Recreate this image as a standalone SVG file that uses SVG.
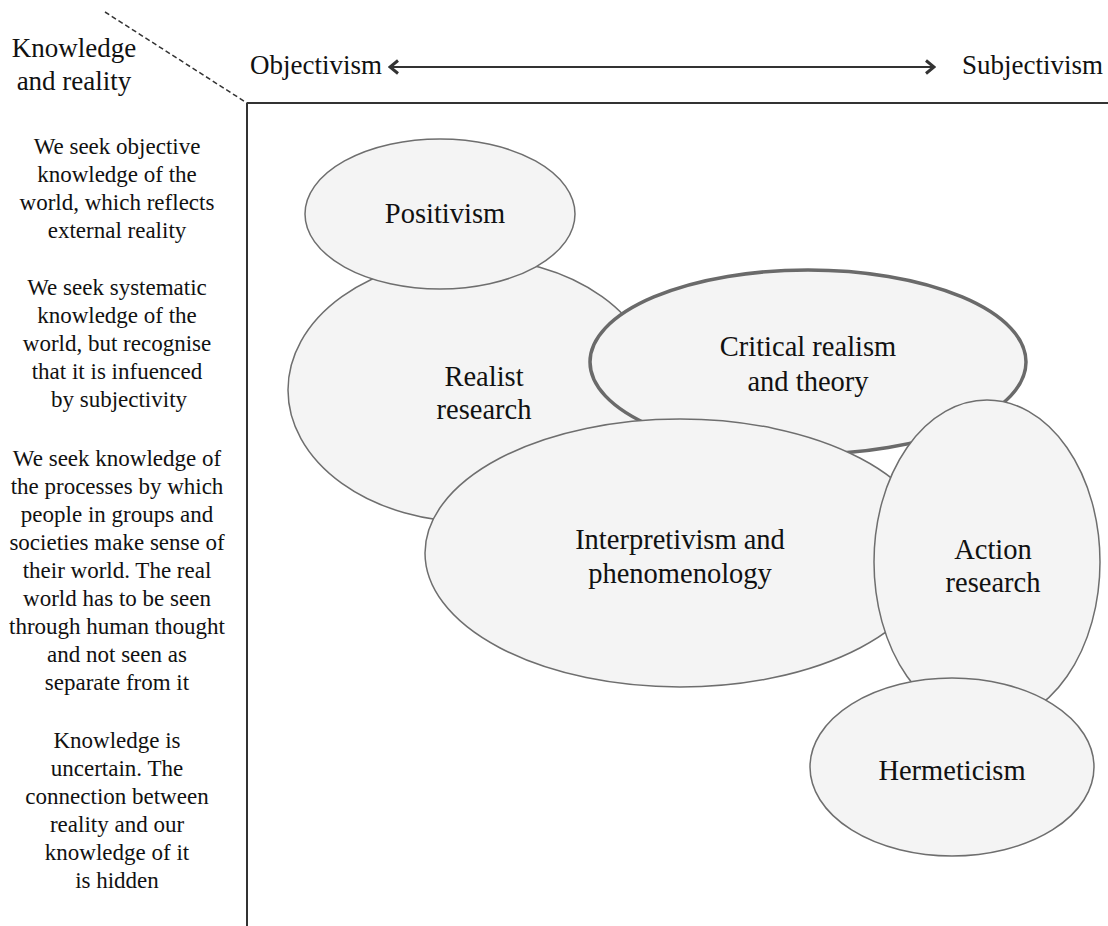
<svg xmlns="http://www.w3.org/2000/svg" width="1108" height="926" viewBox="0 0 1108 926">
  <defs>
    <marker id="chev" viewBox="0 0 12 16" refX="10" refY="8" markerWidth="12" markerHeight="16" markerUnits="userSpaceOnUse" orient="auto-start-reverse">
      <path d="M2,1.5 L10,8 L2,14.5" fill="none" stroke="#333" stroke-width="3"/>
    </marker>
  </defs>

  <!-- axes and corner -->
  <g id="axes">
    <line x1="247" y1="103" x2="1108" y2="103" stroke="#333" stroke-width="2"/>
    <line x1="247" y1="103" x2="247" y2="926" stroke="#333" stroke-width="2"/>
    <line x1="105" y1="12" x2="247" y2="103" stroke="#333" stroke-width="1.5" stroke-dasharray="5,3"/>
  </g>

  <g id="connectors">
    <line x1="390" y1="67" x2="934" y2="67" stroke="#333" stroke-width="2" marker-start="url(#chev)" marker-end="url(#chev)"/>
  </g>

  <g id="headings" fill="#111">
    <text font-family="Liberation Serif" font-size="27" x="74" y="57" text-anchor="middle">Knowledge</text>
    <text font-family="Liberation Serif" font-size="27" x="74" y="90" text-anchor="middle">and reality</text>
    <text font-family="Liberation Serif" font-size="27" x="250" y="74">Objectivism</text>
    <text font-family="Liberation Serif" font-size="27" x="962" y="74">Subjectivism</text>
  </g>

  <g id="side-notes" fill="#111">
    <text font-family="Liberation Serif" font-size="23" text-anchor="middle" x="117" y="154">We seek objective</text>
    <text font-family="Liberation Serif" font-size="23" text-anchor="middle" x="117" y="182">knowledge of the</text>
    <text font-family="Liberation Serif" font-size="23" text-anchor="middle" x="117" y="210">world, which reflects</text>
    <text font-family="Liberation Serif" font-size="23" text-anchor="middle" x="117" y="238">external reality</text>

    <text font-family="Liberation Serif" font-size="23" text-anchor="middle" x="117" y="295">We seek systematic</text>
    <text font-family="Liberation Serif" font-size="23" text-anchor="middle" x="117" y="323">knowledge of the</text>
    <text font-family="Liberation Serif" font-size="23" text-anchor="middle" x="117" y="351">world, but recognise</text>
    <text font-family="Liberation Serif" font-size="23" text-anchor="middle" x="117" y="379">that it is infuenced</text>
    <text font-family="Liberation Serif" font-size="23" text-anchor="middle" x="119" y="407">by subjectivity</text>

    <text font-family="Liberation Serif" font-size="23" text-anchor="middle" x="117" y="466">We seek knowledge of</text>
    <text font-family="Liberation Serif" font-size="23" text-anchor="middle" x="117" y="494">the processes by which</text>
    <text font-family="Liberation Serif" font-size="23" text-anchor="middle" x="117" y="522">people in groups and</text>
    <text font-family="Liberation Serif" font-size="23" text-anchor="middle" x="117" y="550">societies make sense of</text>
    <text font-family="Liberation Serif" font-size="23" text-anchor="middle" x="117" y="578">their world. The real</text>
    <text font-family="Liberation Serif" font-size="23" text-anchor="middle" x="117" y="606">world has to be seen</text>
    <text font-family="Liberation Serif" font-size="23" text-anchor="middle" x="117" y="634">through human thought</text>
    <text font-family="Liberation Serif" font-size="23" text-anchor="middle" x="117" y="662">and not seen as</text>
    <text font-family="Liberation Serif" font-size="23" text-anchor="middle" x="117" y="690">separate from it</text>

    <text font-family="Liberation Serif" font-size="23" text-anchor="middle" x="117" y="748">Knowledge is</text>
    <text font-family="Liberation Serif" font-size="23" text-anchor="middle" x="117" y="776">uncertain. The</text>
    <text font-family="Liberation Serif" font-size="23" text-anchor="middle" x="117" y="804">connection between</text>
    <text font-family="Liberation Serif" font-size="23" text-anchor="middle" x="117" y="832">reality and our</text>
    <text font-family="Liberation Serif" font-size="23" text-anchor="middle" x="117" y="860">knowledge of it</text>
    <text font-family="Liberation Serif" font-size="23" text-anchor="middle" x="117" y="888">is hidden</text>
  </g>

  <g id="realist">
    <ellipse cx="472" cy="390" rx="184" ry="132" fill="#f4f4f4" stroke="#6e6e6e" stroke-width="1.5"/>
    <text font-family="Liberation Serif" font-size="28.5" text-anchor="middle" fill="#111" x="484" y="386">Realist</text>
    <text font-family="Liberation Serif" font-size="28.5" text-anchor="middle" fill="#111" x="484" y="419">research</text>
  </g>

  <g id="positivism">
    <ellipse cx="440" cy="214" rx="135" ry="75" fill="#f4f4f4" stroke="#6e6e6e" stroke-width="1.5"/>
    <text font-family="Liberation Serif" font-size="28.5" text-anchor="middle" fill="#111" x="445" y="223">Positivism</text>
  </g>

  <g id="critical-realism">
    <ellipse cx="808" cy="362" rx="218" ry="92" fill="#f4f4f4" stroke="#6a6a6a" stroke-width="3.5"/>
    <text font-family="Liberation Serif" font-size="28.5" text-anchor="middle" fill="#111" x="808" y="356">Critical realism</text>
    <text font-family="Liberation Serif" font-size="28.5" text-anchor="middle" fill="#111" x="808" y="391">and theory</text>
  </g>

  <g id="interpretivism">
    <ellipse cx="680" cy="553" rx="255" ry="134" fill="#f4f4f4" stroke="#6e6e6e" stroke-width="1.5"/>
    <text font-family="Liberation Serif" font-size="28.5" text-anchor="middle" fill="#111" x="680" y="549">Interpretivism and</text>
    <text font-family="Liberation Serif" font-size="28.5" text-anchor="middle" fill="#111" x="680" y="583">phenomenology</text>
  </g>

  <g id="action-research">
    <ellipse cx="987" cy="562" rx="113" ry="162" fill="#f4f4f4" stroke="#6e6e6e" stroke-width="1.5"/>
    <text font-family="Liberation Serif" font-size="28.5" text-anchor="middle" fill="#111" x="993" y="559">Action</text>
    <text font-family="Liberation Serif" font-size="28.5" text-anchor="middle" fill="#111" x="993" y="592">research</text>
  </g>

  <g id="hermeticism">
    <ellipse cx="952" cy="767" rx="142" ry="89" fill="#f4f4f4" stroke="#6e6e6e" stroke-width="1.5"/>
    <text font-family="Liberation Serif" font-size="28.5" text-anchor="middle" fill="#111" x="952" y="780">Hermeticism</text>
  </g>
</svg>
